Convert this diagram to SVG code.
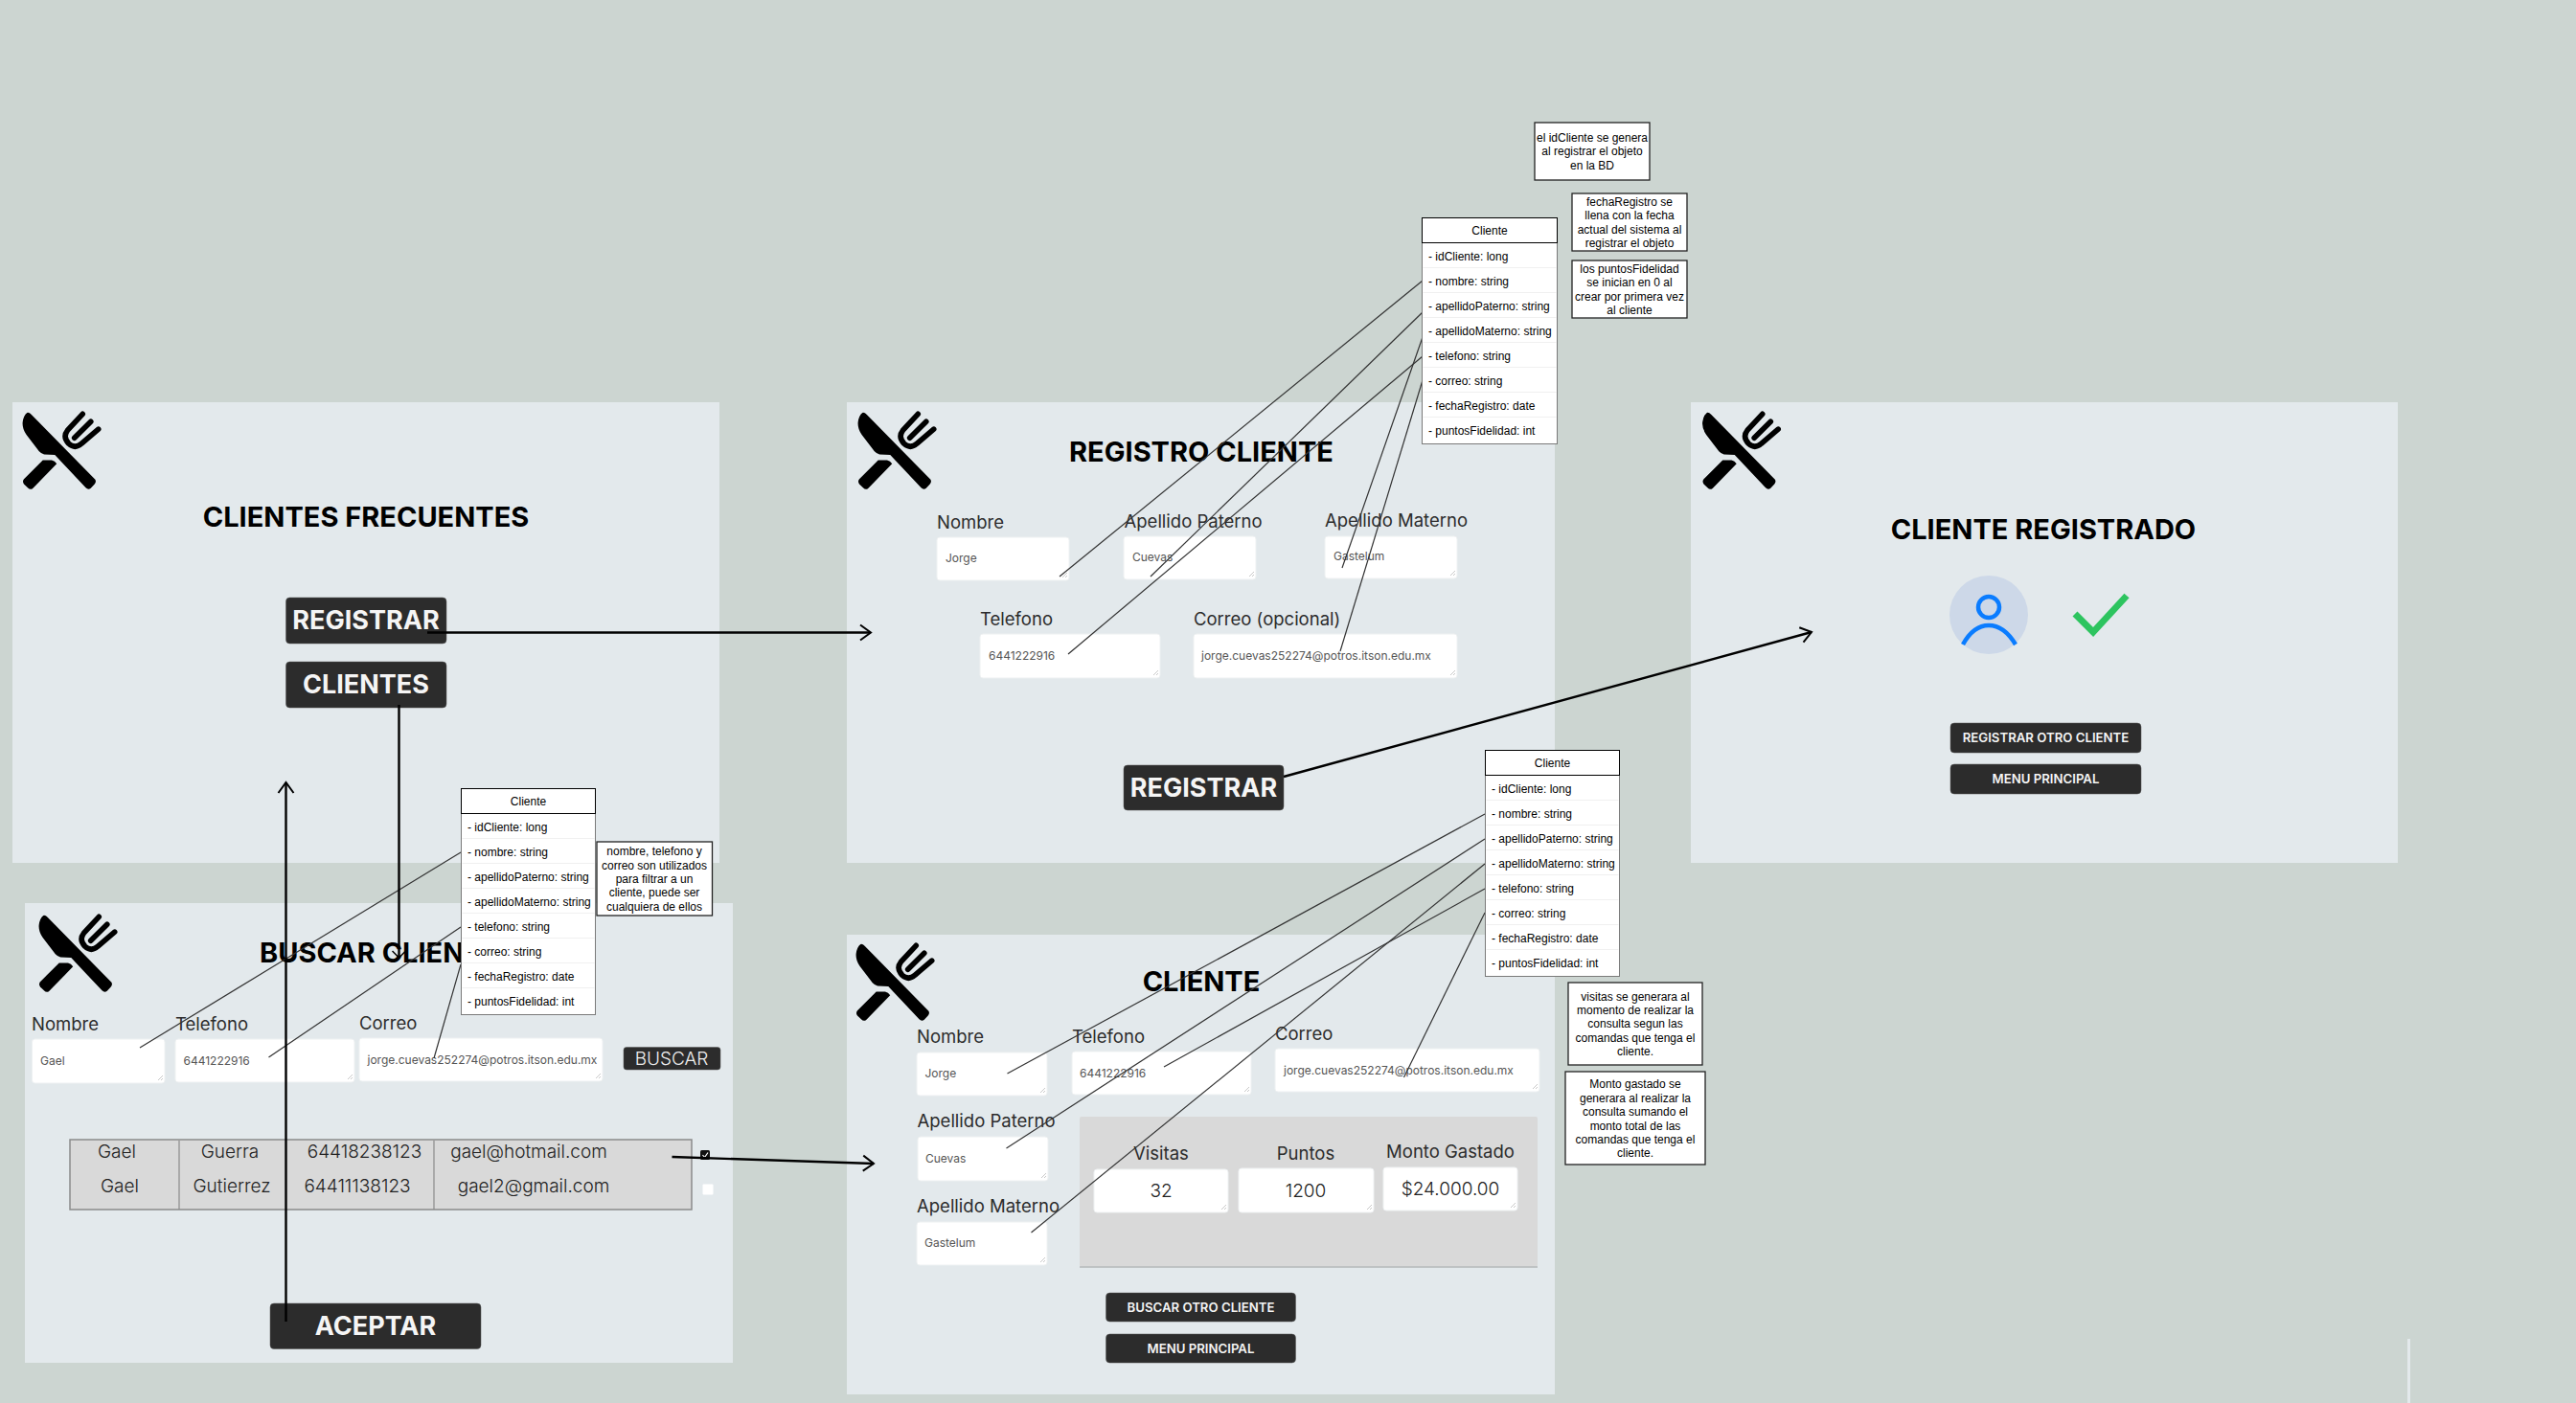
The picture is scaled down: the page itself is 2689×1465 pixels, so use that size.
<svg xmlns="http://www.w3.org/2000/svg" xmlns:xlink="http://www.w3.org/1999/xlink" width="2689" height="1465" viewBox="0 0 2689 1465">
<style>
.panel{fill:#e3e9ec}
.btn{fill:#2c2c2c;stroke:#555;stroke-width:.5}
.input{fill:#fff;stroke:#eef1f2;stroke-width:1}
text{font-family:Inter,"Liberation Sans",sans-serif}
.title{font-size:29px;font-weight:700;fill:#000;text-anchor:middle}
.bigbtn{font-size:27px;font-weight:700;fill:#f5f5f5;text-anchor:middle}
.smbtn{font-size:13.2px;font-weight:600;fill:#f5f5f5;text-anchor:middle}
.label{font-size:18.500px;font-weight:400;fill:#2c2c2c}
.mid{text-anchor:middle}
.val{font-size:12px;fill:#555}
.big{font-size:19px;font-weight:300;fill:#222;text-anchor:middle}
.cell{font-size:19px;font-weight:300;fill:#222;text-anchor:middle}
.uml text,.note text{font-family:"Liberation Sans",Arial,sans-serif;font-size:12px;fill:#000}
.uml .hd,.note text{text-anchor:middle}
.box{fill:#fff;stroke:#7a7a7a;stroke-width:1}
.hdr{fill:#fff;stroke:#000;stroke-width:1}
.sep{stroke:#f0f0f0;stroke-width:1}
.note rect{fill:#fff;stroke:#222;stroke-width:1.3}
.thin{stroke:#333;stroke-width:1.2;fill:none}
.thick{stroke:#000;stroke-width:2.4;fill:none}
.grip{stroke:#bbb;stroke-width:.8;fill:none}
</style>
<defs>
<symbol id="icon" viewBox="66 56 252 252">
<path fill="#000" d="M82 62Q88 60 96 68L298 274Q302 282 296 288L284 301Q276 308 268 300L170 196L136 194Q128 192 120 184L80 132Q66 112 68 92Q70 72 82 62Z"/>
<path fill="#000" d="M132 212L160 212Q170 214 176 224L100 302Q92 308 84 300L72 288Q66 280 72 272Z"/>
<path fill="none" stroke="#000" stroke-width="17" stroke-linecap="round" d="M258 66L210 118Q194 138 214 160Q234 178 254 160L308 114M284 90L232 142"/>
</symbol>
<marker id="open" viewBox="-13 -10 15 20" refX="0" refY="0" markerWidth="15" markerHeight="20" markerUnits="userSpaceOnUse" orient="auto"><path d="M-11,-8 L0,0 L-11,8" fill="none" stroke="#000" stroke-width="2"/></marker>
<marker id="small" viewBox="-10 -8 11 16" refX="0" refY="0" markerWidth="11" markerHeight="16" markerUnits="userSpaceOnUse" orient="auto"><path d="M-7,-7 L0,0 L-7,7" fill="none" stroke="#000" stroke-width="1.5"/></marker>
<path id="g" class="grip" d="M-6,-1 L-1,-6 M-3,-1 L-1,-3"/>
</defs>
<rect width="2689" height="1465" fill="#ccd5d1"/>

<g id="screen-clientes-frecuentes">
<rect class="panel" x="13" y="420" width="738" height="481"/>
<use href="#icon" x="23" y="429" width="83" height="83"/>
<text class="title" x="382" y="550">CLIENTES FRECUENTES</text>
<rect class="btn" x="298.5" y="624" width="167.500" height="48" rx="4"/>
<text class="bigbtn" x="382" y="657">REGISTRAR</text>
<rect class="btn" x="298.5" y="691" width="167.500" height="48" rx="4"/>
<text class="bigbtn" x="382" y="724">CLIENTES</text>
</g>

<g id="screen-registro-cliente">
<rect class="panel" x="884" y="420" width="739" height="481"/>
<use href="#icon" x="895" y="429" width="83" height="83"/>
<text class="title" x="1254" y="481.500">REGISTRO CLIENTE</text>
<text class="label" x="978" y="551.500">Nombre</text>
<rect class="input" x="978" y="561" width="138" height="45" rx="3"/><use href="#g" x="1115" y="604"/>
<text class="val" x="987" y="587">Jorge</text>
<text class="label" x="1173.500" y="550.500">Apellido Paterno</text>
<rect class="input" x="1173" y="560" width="138" height="45" rx="3"/><use href="#g" x="1310" y="603"/>
<text class="val" x="1182" y="586">Cuevas</text>
<text class="label" x="1383" y="550">Apellido Materno</text>
<rect class="input" x="1383" y="560" width="138" height="44" rx="3"/><use href="#g" x="1520" y="602"/>
<text class="val" x="1392" y="585">Gastelum</text>
<text class="label" x="1023" y="653">Telefono</text>
<rect class="input" x="1023" y="662" width="188" height="46" rx="3"/><use href="#g" x="1210" y="706"/>
<text class="val" x="1032" y="689">6441222916</text>
<text class="label" x="1246" y="653">Correo (opcional)</text>
<rect class="input" x="1246" y="662" width="275" height="46" rx="3"/><use href="#g" x="1520" y="706"/>
<text class="val" x="1254" y="689">jorge.cuevas252274@potros.itson.edu.mx</text>
<rect class="btn" x="1173" y="799" width="167" height="47" rx="4"/>
<text class="bigbtn" x="1256.500" y="832">REGISTRAR</text>
</g>

<g id="screen-cliente-registrado">
<rect class="panel" x="1765" y="420" width="738" height="481"/>
<use href="#icon" x="1776.500" y="429" width="83" height="83"/>
<text class="title" x="2133" y="563">CLIENTE REGISTRADO</text>
<circle cx="2076" cy="642" r="41" fill="#cdd8e8"/>
<ellipse cx="2076" cy="634" rx="11" ry="11" fill="none" stroke="#0a7cff" stroke-width="4.500"/>
<path d="M2049 673Q2060 653 2076 653Q2092 653 2104 673" fill="none" stroke="#0a7cff" stroke-width="4.500"/>
<path d="M2166 641L2185 660L2220 622" fill="none" stroke="#2dc45f" stroke-width="7"/>
<rect class="btn" x="2036" y="755" width="199" height="31" rx="4"/>
<text class="smbtn" x="2135.500" y="775">REGISTRAR OTRO CLIENTE</text>
<rect class="btn" x="2036" y="798" width="199" height="31" rx="4"/>
<text class="smbtn" x="2135.500" y="818">MENU PRINCIPAL</text>
</g>

<g id="screen-buscar-cliente">
<rect class="panel" x="26" y="943" width="739" height="480"/>
<use href="#icon" x="40" y="954" width="83" height="83"/>
<text class="title" x="271" y="1005" style="text-anchor:start">BUSCAR CLIEN</text>
<text class="label" x="33" y="1076">Nombre</text>
<rect class="input" x="33.500" y="1085" width="138.500" height="46" rx="3"/><use href="#g" x="171" y="1129"/>
<text class="val" x="42" y="1112">Gael</text>
<text class="label" x="183" y="1076">Telefono</text>
<rect class="input" x="183" y="1085" width="187" height="45" rx="3"/><use href="#g" x="369" y="1128"/>
<text class="val" x="191.500" y="1112">6441222916</text>
<text class="label" x="375" y="1074.500">Correo</text>
<rect class="input" x="375" y="1084" width="254" height="45" rx="3"/><use href="#g" x="628" y="1127"/>
<text class="val" x="383.500" y="1111">jorge.cuevas252274@potros.itson.edu.mx</text>
<rect class="btn" x="651" y="1093.500" width="101" height="23.500" rx="3"/>
<text x="701" y="1112" style="font-size:19px;font-weight:300;fill:#eee;text-anchor:middle">BUSCAR</text>
<g id="tabla-resultados">
<rect x="73" y="1190" width="649" height="73" fill="#d9d9d9" stroke="#8a8a8a" stroke-width="1.500"/>
<path d="M187 1191V1263M453 1191V1263" stroke="#8a8a8a" stroke-width="1.200"/>
<text class="cell" x="122" y="1209">Gael</text><text class="cell" x="240" y="1209">Guerra</text><text class="cell" x="380.500" y="1209">64418238123</text><text class="cell" x="552" y="1209">gael@hotmail.com</text>
<text class="cell" x="125" y="1245">Gael</text><text class="cell" x="242" y="1245">Gutierrez</text><text class="cell" x="373" y="1245">64411138123</text><text class="cell" x="557" y="1245">gael2@gmail.com</text>
</g>
<rect x="731" y="1201" width="10" height="10" rx="1.500" fill="#111"/>
<path d="M733.500 1206L735.500 1208.500L739 1203.500" fill="none" stroke="#fff" stroke-width="1.200"/>
<rect x="733.500" y="1236.500" width="11" height="11" rx="1" fill="#fff"/>
<rect class="btn" x="282" y="1361" width="220" height="47.500" rx="4"/>
<text class="bigbtn" x="392" y="1394">ACEPTAR</text>
</g>

<g id="screen-cliente">
<rect class="panel" x="884" y="976" width="739" height="480"/>
<use href="#icon" x="893" y="984" width="83" height="83"/>
<text class="title" x="1254" y="1035">CLIENTE</text>
<text class="label" x="957" y="1088.500">Nombre</text>
<rect class="input" x="957" y="1099" width="136" height="45" rx="3"/><use href="#g" x="1092" y="1142"/>
<text class="val" x="965.500" y="1125">Jorge</text>
<text class="label" x="1119" y="1088.500">Telefono</text>
<rect class="input" x="1119" y="1098" width="187" height="45" rx="3"/><use href="#g" x="1305" y="1141"/>
<text class="val" x="1127" y="1125">6441222916</text>
<text class="label" x="1331" y="1086">Correo</text>
<rect class="input" x="1331" y="1095" width="276" height="45" rx="3"/><use href="#g" x="1606" y="1138"/>
<text class="val" x="1340" y="1122">jorge.cuevas252274@potros.itson.edu.mx</text>
<text class="label" x="957.500" y="1177">Apellido Paterno</text>
<rect class="input" x="958" y="1187" width="136" height="46" rx="3"/><use href="#g" x="1093" y="1231"/>
<text class="val" x="966" y="1214">Cuevas</text>
<text class="label" x="957" y="1266">Apellido Materno</text>
<rect class="input" x="957" y="1276" width="136" height="45" rx="3"/><use href="#g" x="1092" y="1319"/>
<text class="val" x="965" y="1302">Gastelum</text>
<rect x="1127" y="1166" width="478" height="157" rx="2" fill="#d9d9d9"/>
<path d="M1127 1323H1605" stroke="#b4b8ba" stroke-width="1.500"/>
<text class="label mid" x="1212" y="1211">Visitas</text>
<rect class="input" x="1142" y="1221" width="140" height="45" rx="3"/><use href="#g" x="1281" y="1264"/>
<text class="big" x="1212" y="1250">32</text>
<text class="label mid" x="1363" y="1211">Puntos</text>
<rect class="input" x="1293" y="1220" width="141" height="46" rx="3"/><use href="#g" x="1433" y="1264"/>
<text class="big" x="1363" y="1250">1200</text>
<text class="label mid" x="1514" y="1209">Monto Gastado</text>
<rect class="input" x="1444" y="1219" width="140" height="45" rx="3"/><use href="#g" x="1583" y="1262"/>
<text class="big" x="1514" y="1248">$24.000.00</text>
<rect class="btn" x="1154.500" y="1350" width="198" height="30" rx="4"/>
<text class="smbtn" x="1253.500" y="1370">BUSCAR OTRO CLIENTE</text>
<rect class="btn" x="1154.500" y="1393" width="198" height="30" rx="4"/>
<text class="smbtn" x="1253.500" y="1412.500">MENU PRINCIPAL</text>
</g>

<g id="panel-borde">
<rect class="panel" x="2513" y="1398" width="3" height="67"/>
</g>

<g id="connectors">
<path class="thin" d="M1106 602L1485 293"/>
<path class="thin" d="M1201 602L1485 326"/>
<path class="thin" d="M1115 683L1485 372"/>
<path class="thin" d="M1401 593L1485 352"/>
<path class="thin" d="M1399 680L1485 397"/>
<path class="thin" d="M1051.500 1121L1550 850"/>
<path class="thin" d="M1050.500 1199L1550 876"/>
<path class="thin" d="M1215 1114L1550 928"/>
<path class="thin" d="M1076.500 1287L1550 902"/>
<path class="thin" d="M1465.500 1125L1550 953"/>
<path class="thin" d="M146 1094L481 890"/>
<path class="thin" d="M280.500 1104L481 968"/>
<path class="thin" d="M453 1105L481 1007"/>
<path class="thick" d="M446 660.500H909" marker-end="url(#open)"/>
<path class="thick" d="M416.500 736V1000" marker-end="url(#small)"/>
<path class="thick" d="M298.500 1380V817" marker-end="url(#open)"/>
<path class="thick" d="M1340 811L1891 660" marker-end="url(#open)"/>
<path class="thick" d="M701.500 1208L912 1215" marker-end="url(#open)"/>
</g>

<g id="clase-cliente-registro" class="uml" transform="translate(1484.500 227.500)">
<rect class="box" width="141" height="236"/><rect class="hdr" width="141" height="26"/>
<path class="sep" d="M1 52H140M1 78H140M1 104H140M1 130H140M1 156H140M1 182H140M1 208H140"/>
<text class="hd" x="70.500" y="17">Cliente</text>
<text x="6.500" y="44">- idCliente: long</text><text x="6.500" y="70">- nombre: string</text><text x="6.500" y="96">- apellidoPaterno: string</text><text x="6.500" y="122">- apellidoMaterno: string</text><text x="6.500" y="148">- telefono: string</text><text x="6.500" y="174">- correo: string</text><text x="6.500" y="200">- fechaRegistro: date</text><text x="6.500" y="226">- puntosFidelidad: int</text>
</g>
<g id="clase-cliente-consulta" class="uml" transform="translate(1550.500 783.500)">
<rect class="box" width="140" height="236"/><rect class="hdr" width="140" height="26"/>
<path class="sep" d="M1 52H139M1 78H139M1 104H139M1 130H139M1 156H139M1 182H139M1 208H139"/>
<text class="hd" x="70" y="17">Cliente</text>
<text x="6.500" y="44">- idCliente: long</text><text x="6.500" y="70">- nombre: string</text><text x="6.500" y="96">- apellidoPaterno: string</text><text x="6.500" y="122">- apellidoMaterno: string</text><text x="6.500" y="148">- telefono: string</text><text x="6.500" y="174">- correo: string</text><text x="6.500" y="200">- fechaRegistro: date</text><text x="6.500" y="226">- puntosFidelidad: int</text>
</g>
<g id="clase-cliente-busqueda" class="uml" transform="translate(481.500 823.500)">
<rect class="box" width="140" height="236"/><rect class="hdr" width="140" height="26"/>
<path class="sep" d="M1 52H139M1 78H139M1 104H139M1 130H139M1 156H139M1 182H139M1 208H139"/>
<text class="hd" x="70" y="17">Cliente</text>
<text x="6.500" y="44">- idCliente: long</text><text x="6.500" y="70">- nombre: string</text><text x="6.500" y="96">- apellidoPaterno: string</text><text x="6.500" y="122">- apellidoMaterno: string</text><text x="6.500" y="148">- telefono: string</text><text x="6.500" y="174">- correo: string</text><text x="6.500" y="200">- fechaRegistro: date</text><text x="6.500" y="226">- puntosFidelidad: int</text>
</g>

<g id="nota-idcliente" class="note"><rect x="1602" y="128" width="120" height="60"/>
<text x="1662" y="148">el idCliente se genera</text><text x="1662" y="162">al registrar el objeto</text><text x="1662" y="177">en la BD</text></g>
<g id="nota-fecharegistro" class="note"><rect x="1641" y="202" width="120" height="60"/>
<text x="1701" y="215">fechaRegistro se</text><text x="1701" y="229">llena con la fecha</text><text x="1701" y="244">actual del sistema al</text><text x="1701" y="258">registrar el objeto</text></g>
<g id="nota-puntos" class="note"><rect x="1641" y="272" width="120" height="60"/>
<text x="1701" y="285">los puntosFidelidad</text><text x="1701" y="299">se inician en 0 al</text><text x="1701" y="314">crear por primera vez</text><text x="1701" y="328">al cliente</text></g>
<g id="nota-filtro" class="note"><rect x="623" y="879" width="120.500" height="77"/>
<text x="683" y="893">nombre, telefono y</text><text x="683" y="908">correo son utilizados</text><text x="683" y="922">para filtrar a un</text><text x="683" y="936">cliente, puede ser</text><text x="683" y="951">cualquiera de ellos</text></g>
<g id="nota-visitas" class="note"><rect x="1637" y="1026" width="140" height="86"/>
<text x="1707" y="1045">visitas se generara al</text><text x="1707" y="1059">momento de realizar la</text><text x="1707" y="1073">consulta segun las</text><text x="1707" y="1088">comandas que tenga el</text><text x="1707" y="1102">cliente.</text></g>
<g id="nota-monto" class="note"><rect x="1634" y="1119" width="146" height="97"/>
<text x="1707" y="1136">Monto gastado se</text><text x="1707" y="1151">generara al realizar la</text><text x="1707" y="1165">consulta sumando el</text><text x="1707" y="1180">monto total de las</text><text x="1707" y="1194">comandas que tenga el</text><text x="1707" y="1208">cliente.</text></g>
</svg>
